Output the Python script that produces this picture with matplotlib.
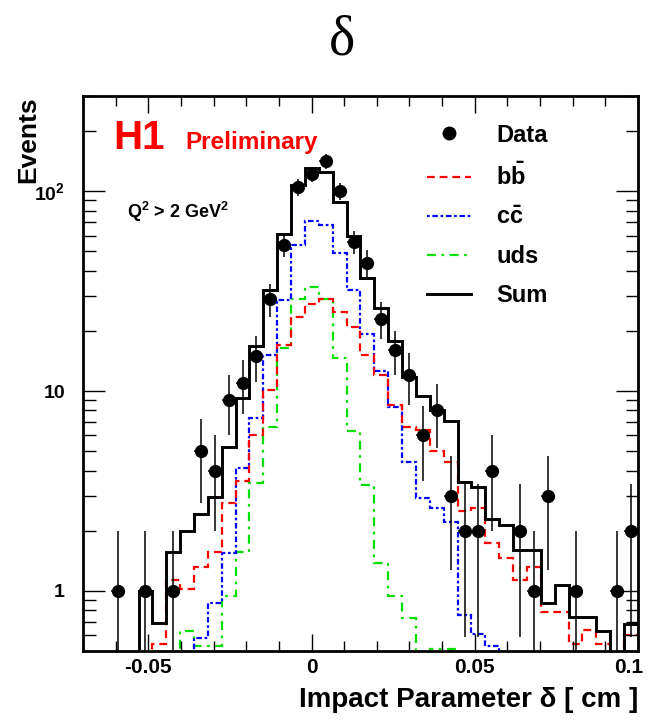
import numpy as np
import matplotlib
matplotlib.use("Agg")
import matplotlib.pyplot as plt
import matplotlib.transforms as mtransforms
from matplotlib.lines import Line2D
from matplotlib.ticker import FixedLocator, LogLocator, MultipleLocator, NullFormatter

# -----------------------------
# Data (40 bins from -0.07 to 0.1 cm)
# -----------------------------
x_min, x_max, n_bins = -0.07, 0.1, 40

data_counts = [0, 0, 1, 0, 1, 0, 1, 0, 5, 4,
               9, 11, 15, 29, 54, 105, 122, 141, 100, 56,
               44, 23, 16, 12, 6, 8, 3, 2, 2, 4,
               0, 2, 1, 3, 0, 1, 0, 0, 1, 2]

bb_vals = [0.2, 0.25, 0.3, 0.35, 0.45, 0.54, 1.13, 1.02, 1.31, 1.57,
           2.74, 3.56, 6.0, 10.1, 17.0, 23.5, 27.4, 29.0, 25.0, 21.0,
           15.1, 12.0, 8.5, 6.6, 6.4, 5.0, 4.4, 2.5, 2.6, 1.73,
           1.46, 1.14, 1.31, 0.78, 0.78, 0.54, 0.64, 0.54, 0.3, 0.6]

cc_vals = [0.1, 0.1, 0.15, 0.15, 0.2, 0.25, 0.3, 0.35, 0.58, 0.87,
           1.54, 4.1, 7.3, 15.1, 28.7, 54.0, 71.0, 68.0, 49.0, 32.0,
           19.4, 12.6, 8.3, 4.4, 2.9, 2.6, 2.2, 0.76, 0.61, 0.53,
           0.4, 0.3, 0.25, 0.2, 0.2, 0.15, 0.15, 0.1, 0.1, 0.1]

uds_vals = [0.1, 0.1, 0.15, 0.2, 0.25, 0.3, 0.4, 0.63, 0.53, 0.53,
            0.94, 1.57, 3.46, 6.6, 16.4, 29.0, 33.0, 29.0, 14.6, 6.3,
            3.4, 1.38, 0.94, 0.73, 0.45, 0.51, 0.51, 0.3, 0.25, 0.2,
            0.2, 0.15, 0.15, 0.1, 0.1, 0.1, 0.1, 0.1, 0.1, 0.1]

sum_vals = [0.2, 0.25, 0.3, 0.4, 1.0, 0.69, 1.57, 2.0, 2.42, 2.96,
            5.27, 9.2, 16.8, 32.2, 61.0, 108.0, 131.0, 125.0, 88.0, 60.0,
            37.0, 26.0, 17.8, 11.7, 9.5, 8.0, 7.1, 3.5, 3.3, 2.3,
            2.14, 1.6, 1.6, 0.87, 1.07, 0.74, 0.74, 0.63, 0.3, 0.68]

x_ticks = [-0.05, 0.0, 0.05, 0.1]
x_tick_labels = ["-0.05", "0", "0.05", "0.1"]
y_ticks = [1, 10, 100]
y_tick_labels = ["1", "10", r"$\mathbf{10^{2}}$"]

# -----------------------------
# Style
# -----------------------------
plt.rcParams["font.family"] = ["Liberation Sans", "DejaVu Sans"]
plt.rcParams["mathtext.fontset"] = "custom"
plt.rcParams["mathtext.rm"] = "Liberation Sans"
plt.rcParams["mathtext.bf"] = "Liberation Sans:bold"
plt.rcParams["mathtext.it"] = "Liberation Sans:italic"

red, blue, green = "#ff0000", "#0000ff", "#00e000"
ls_bb = (0, (3.5, 2.2))
ls_cc = (0, (1.2, 1.2, 2.5, 1.2))
ls_uds = (0, (4, 2.5, 1.2, 2.5))

edges = np.linspace(x_min, x_max, n_bins + 1)
centers = 0.5 * (edges[:-1] + edges[1:])
half_w = 0.5 * (edges[1] - edges[0])

counts = np.array(data_counts, dtype=float)
has = counts > 0
err_up = np.sqrt(counts[has])
err_lo = np.minimum(np.sqrt(counts[has]), counts[has] - 1e-3)

fig = plt.figure(figsize=(6.5, 7.2), dpi=100)
ax = fig.add_axes([0.1277, 0.0958, 0.8538, 0.7709])

ax.stairs(uds_vals, edges, color=green, lw=1.6, linestyle=ls_uds, baseline=None)
ax.stairs(cc_vals, edges, color=blue, lw=1.6, linestyle=ls_cc, baseline=None)
ax.stairs(bb_vals, edges, color=red, lw=1.6, linestyle=ls_bb, baseline=None)
ax.stairs(sum_vals, edges, color="black", lw=2.1, baseline=None)

ax.errorbar(centers[has], counts[has], yerr=[err_lo, err_up], xerr=half_w,
            fmt="o", color="black", ms=8.5, elinewidth=1.1, capsize=0, zorder=5)

ax.set_yscale("log")
ax.set_xlim(x_min, x_max)
ax.set_ylim(0.5, 300)

ax.xaxis.set_major_locator(FixedLocator(x_ticks))
ax.set_xticklabels(x_tick_labels)
ax.xaxis.set_minor_locator(MultipleLocator(0.01))
ax.yaxis.set_major_locator(FixedLocator(y_ticks))
ax.set_yticklabels(y_tick_labels)
ax.yaxis.set_minor_locator(LogLocator(base=10, subs=np.arange(2, 10)))
ax.yaxis.set_minor_formatter(NullFormatter())

ax.tick_params(which="both", direction="in", top=True, right=True, width=1.0)
ax.tick_params(which="major", length=12)
ax.tick_params(which="minor", length=7)
ax.tick_params(axis="y", which="major", length=16)
ax.tick_params(axis="y", which="minor", length=9)
ax.tick_params(axis="x", labelsize=15, pad=5)
ax.tick_params(axis="y", labelsize=14, pad=13)
for lab in ax.get_xticklabels() + ax.get_yticklabels():
    lab.set_fontweight("bold")
for side in ax.spines.values():
    side.set_linewidth(2.0)

# keep the last x label inside the figure
last = ax.get_xticklabels()[-1]
last.set_transform(last.get_transform()
                   + mtransforms.ScaledTranslation(-0.09, 0, fig.dpi_scale_trans))

ax.set_xlabel("Impact Parameter δ [ cm ]", fontsize=20, fontweight="bold",
              loc="right", labelpad=7)
ax.set_ylabel("Events", fontsize=19, fontweight="bold")
ax.yaxis.set_label_coords(-0.077, 1.0)
ax.yaxis.label.set_horizontalalignment("right")

# -----------------------------
# Labels and legend
# -----------------------------
ax.text(0.055, 0.905, "H1", transform=ax.transAxes, color=red,
        fontsize=29, fontweight="bold", va="baseline")
ax.text(0.185, 0.905, "Preliminary", transform=ax.transAxes, color=red,
        fontsize=17.5, fontweight="bold", va="baseline")
ax.text(0.08, 0.78, r"Q$^{\mathbf{2}}$ > 2 GeV$^{\mathbf{2}}$", transform=ax.transAxes,
        fontsize=13, fontweight="bold", va="baseline")

handles = [
    Line2D([], [], marker="o", ls="none", color="black", ms=9),
    Line2D([], [], color=red, lw=1.6, ls=ls_bb),
    Line2D([], [], color=blue, lw=1.6, ls=ls_cc),
    Line2D([], [], color=green, lw=1.6, ls=ls_uds),
    Line2D([], [], color="black", lw=2.1),
]
labels = ["Data", r"$\mathbf{b\bar{b}}$", r"$\mathbf{c\bar{c}}$", "uds", "Sum"]
leg = ax.legend(handles, labels, loc="upper left", bbox_to_anchor=(0.619, 0.95),
                frameon=False, fontsize=17, handlelength=1.9, handletextpad=1.05,
                labelspacing=0.68, borderpad=0, borderaxespad=0)
for t in leg.get_texts():
    t.set_fontweight("bold")

fig.text(0.526, 0.944, "δ", family=["Liberation Serif", "DejaVu Serif"],
         fontsize=40, ha="center", va="center")

fig.savefig("out.png", dpi=100)
plt.close(fig)
